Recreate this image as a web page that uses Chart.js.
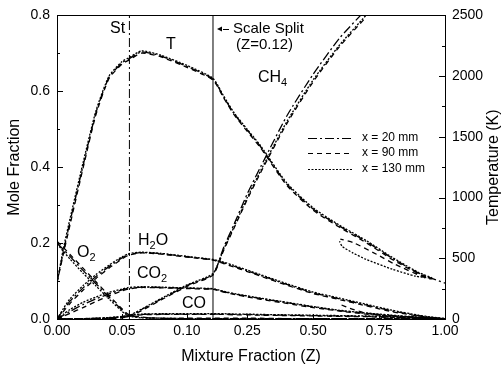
<!DOCTYPE html>
<html>
<head>
<meta charset="utf-8">
<script src="https://cdn.jsdelivr.net/npm/chart.js@4.4.1/dist/chart.umd.min.js"></script>
<style>
  html, body { margin: 0; padding: 0; background: #fff; }
</style>
</head>
<body>
<canvas id="grafik" width="501" height="368"></canvas>
<script>
// mixture fraction grid shared by all measured profiles
const zGrid = [0, 0.005, 0.01, 0.02, 0.03, 0.04, 0.05, 0.055, 0.065, 0.08, 0.10, 0.12,
               0.16, 0.20, 0.25, 0.30, 0.40, 0.50, 0.60, 0.70, 0.80, 0.90, 0.95, 1.00];
const zTicks = [0, 0.05, 0.10, 0.25, 0.50, 0.75, 1.00];
const ST_Z = 0.0557;      // stoichiometric
const SPLIT_Z = 0.12;     // scale split

// temperature (K)
const T20  = [300, 560, 800, 1260, 1700, 1990, 2110, 2140, 2200, 2165, 2080, 1975, 1830, 1690, 1555, 1420, 1110, 905, 765, 640, 500, 378, 335, 295];
const T90  = [300, 540, 775, 1240, 1685, 1980, 2100, 2130, 2190, 2158, 2072, 1968, 1822, 1682, 1545, 1410, 1100, 895, 755, 630, 490, 372, 330, null];
const T130 = [300, 585, 825, 1285, 1715, 2000, 2120, 2150, 2208, 2172, 2088, 1982, 1838, 1698, 1562, 1428, 1120, 915, 772, 648, 507, 383, 338, null];
const tHookZ90  = [0.925, 0.81, 0.74, 0.65, 0.603];
const tHook90   = [339, 451, 533, 631, 658];
const tHookZ130 = [0.89, 0.80, 0.70, 0.65, 0.61, 0.60];
const tHook130  = [352, 410, 492, 545, 598, 640];

// mole fractions
const CH4_20  = [0, 0, 0, 0, 0.001, 0.002, 0.004, 0.007, 0.025, 0.052, 0.088, 0.118, 0.188, 0.250, 0.330, 0.400, 0.535, 0.645, 0.740, 0.815, null, null, null, null];
const CH4_90  = [0, 0, 0, 0, 0, 0.001, 0.003, 0.006, 0.022, 0.050, 0.086, 0.116, 0.180, 0.240, 0.315, 0.385, 0.515, 0.625, 0.718, 0.795, null, null, null, null];
const CH4_130 = [0, 0, 0, 0, 0.001, 0.002, 0.005, 0.008, 0.026, 0.054, 0.090, 0.120, 0.183, 0.243, 0.320, 0.390, 0.520, 0.630, 0.722, 0.800, null, null, null, null];

const O2_20  = [0.200, 0.183, 0.165, 0.128, 0.093, 0.058, 0.024, 0.010, 0.004, 0.002, 0.001, 0.001, 0.001, 0.001, 0.001, 0.001, 0.001, 0.001, 0.001, 0.001, 0.001, 0.001, 0, 0];
const O2_90  = [0.205, 0.188, 0.170, 0.134, 0.098, 0.062, 0.027, 0.012, 0.005, 0.002, 0.002, 0.002, 0.002, 0.002, 0.002, 0.002, 0.001, 0.001, 0.001, 0.001, 0.001, 0.001, 0.001, null];
const O2_130 = [0.198, 0.178, 0.158, 0.121, 0.087, 0.053, 0.020, 0.008, 0.003, 0.002, 0.001, 0.001, 0.001, 0.001, 0.001, 0.001, 0.001, 0.001, 0.001, 0.001, 0.001, 0.001, 0, 0];

const H2O_20  = [0, 0.024, 0.047, 0.082, 0.112, 0.138, 0.161, 0.170, 0.175, 0.172, 0.164, 0.156, 0.148, 0.139, 0.127, 0.115, 0.091, 0.069, 0.053, 0.037, 0.021, 0.009, 0.004, 0.001];
const H2O_90  = [0, 0.020, 0.041, 0.076, 0.107, 0.134, 0.158, 0.168, 0.174, 0.171, 0.163, 0.155, 0.146, 0.137, 0.125, 0.113, 0.089, 0.067, 0.051, 0.035, 0.019, 0.008, 0.004, null];
const H2O_130 = [0, 0.028, 0.053, 0.088, 0.117, 0.142, 0.164, 0.172, 0.176, 0.173, 0.165, 0.157, 0.150, 0.141, 0.129, 0.117, 0.093, 0.071, 0.055, 0.039, 0.023, 0.010, 0.005, 0.001];
const h2oHookZ90 = [0.82, 0.75, 0.69, 0.64, 0.60];
const h2oHook90  = [0.006, 0.010, 0.017, 0.028, 0.039];

const CO2_20  = [0, 0.010, 0.020, 0.038, 0.053, 0.066, 0.077, 0.081, 0.084, 0.083, 0.081, 0.079, 0.072, 0.066, 0.060, 0.054, 0.043, 0.032, 0.022, 0.015, 0.009, 0.004, 0.002, 0.001];
const CO2_90  = [0, 0.007, 0.015, 0.030, 0.046, 0.061, 0.074, 0.079, 0.083, 0.082, 0.080, 0.078, 0.071, 0.065, 0.058, 0.052, 0.041, 0.030, 0.021, 0.013, 0.008, 0.004, 0.002, null];
const CO2_130 = [0, 0.013, 0.025, 0.044, 0.058, 0.070, 0.079, 0.083, 0.085, 0.084, 0.082, 0.080, 0.073, 0.067, 0.061, 0.055, 0.044, 0.033, 0.023, 0.016, 0.010, 0.005, 0.002, 0.001];

const CO_20  = [0, 0, 0, 0.001, 0.002, 0.003, 0.006, 0.009, 0.012, 0.013, 0.013, 0.013, 0.013, 0.012, 0.012, 0.011, 0.010, 0.009, 0.008, 0.007, 0.005, 0.003, 0.002, 0.001];
const CO_90  = [0, 0, 0, 0.001, 0.001, 0.002, 0.005, 0.008, 0.011, 0.012, 0.012, 0.012, 0.012, 0.011, 0.011, 0.010, 0.009, 0.008, 0.007, 0.006, 0.004, 0.003, 0.002, null];
const CO_130 = [0, 0, 0, 0.001, 0.002, 0.004, 0.007, 0.010, 0.013, 0.014, 0.014, 0.014, 0.014, 0.013, 0.013, 0.012, 0.011, 0.010, 0.009, 0.008, 0.006, 0.004, 0.002, 0.001];

const yTicksMole = [0, 0.2, 0.4, 0.6, 0.8];
const yTicksTemp = [0, 500, 1000, 1500, 2000, 2500];

const FONT = '"Liberation Sans", Arial, Helvetica, sans-serif';
const RIGHT_SQUEEZE = 0.2028;   // Z > 0.12 is drawn compressed

// x axis with a split: linear up to 0.12, compressed after
const LinearScale = Chart.LinearScale || Chart.registry.getScale('linear');
class SplitScale extends LinearScale {
    toU(v) { return v <= SPLIT_Z ? v : SPLIT_Z + (v - SPLIT_Z) * RIGHT_SQUEEZE; }
    fromU(u) { return u <= SPLIT_Z ? u : SPLIT_Z + (u - SPLIT_Z) / RIGHT_SQUEEZE; }
    determineDataLimits() { this.min = 0; this.max = 1; }
    buildTicks() { return zTicks.map(v => ({ value: v })); }
    getPixelForValue(v) { return this.getPixelForDecimal(this.toU(v) / this.toU(this.max)); }
    getValueForPixel(p) { return this.fromU(this.getDecimalForPixel(p) * this.toU(this.max)); }
}
SplitScale.id = 'split';
SplitScale.defaults = {};
Chart.register(SplitScale);

const stasiun = [
    { label: 'x = 20 mm',  dash: [9, 3, 2, 3] },
    { label: 'x = 90 mm',  dash: [5, 4] },
    { label: 'x = 130 mm', dash: [2, 1.5] }
];

function profil(values, hookZ, hookVals) {
    const pts = [];
    zGrid.forEach((z, i) => { if (values[i] !== null) pts.push({ x: z, y: values[i] }); });
    if (hookZ) hookZ.forEach((z, i) => pts.push({ x: z, y: hookVals[i] }));
    return pts;
}

function garis(data, s, axis) {
    return {
        data: data,
        yAxisID: axis || 'y',
        borderColor: '#000',
        borderWidth: 1.3,
        borderDash: stasiun[s].dash,
        pointRadius: 0,
        tension: 0.2,
        fill: false
    };
}

const datasets = [
    garis(profil(T20), 0, 'y2'),
    garis(profil(T90, tHookZ90, tHook90), 1, 'y2'),
    garis(profil(T130, tHookZ130, tHook130), 2, 'y2'),
    garis(profil(CH4_20), 0), garis(profil(CH4_90), 1), garis(profil(CH4_130), 2),
    garis(profil(O2_20), 0),  garis(profil(O2_90), 1),  garis(profil(O2_130), 2),
    garis(profil(H2O_20), 0), garis(profil(H2O_90, h2oHookZ90, h2oHook90), 1), garis(profil(H2O_130), 2),
    garis(profil(CO2_20), 0), garis(profil(CO2_90), 1), garis(profil(CO2_130), 2),
    garis(profil(CO_20), 0),  garis(profil(CO_90), 1),  garis(profil(CO_130), 2),
    // stoichiometric and split markers
    { data: [{ x: ST_Z, y: 0 }, { x: ST_Z, y: 0.8 }], borderColor: '#000', borderWidth: 1, borderDash: [9, 3, 2, 3], pointRadius: 0 },
    { data: [{ x: SPLIT_Z, y: 0 }, { x: SPLIT_Z, y: 0.8 }], borderColor: '#000', borderWidth: 1, pointRadius: 0 }
];

function tulisKimia(ctx, text, x, y, size) {
    let cx = x;
    for (let i = 0; i < text.length; i++) {
        let ch = text[i], sub = false;
        if (ch === '_') { ch = text[++i]; sub = true; }
        ctx.font = (sub ? Math.round(size * 0.7) : size) + 'px ' + FONT;
        ctx.fillText(ch, cx, sub ? y + size * 0.3 : y);
        cx += ctx.measureText(ch).width;
    }
}

const dekorasi = {
    id: 'dekorasi',
    afterDraw(chart) {
        const { ctx, chartArea: a, scales } = chart;
        ctx.save();
        ctx.strokeStyle = '#000';
        ctx.fillStyle = '#000';
        ctx.lineWidth = 1;
        ctx.setLineDash([]);
        ctx.strokeRect(Math.round(a.left) + 0.5, Math.round(a.top) + 0.5,
                       Math.round(a.right - a.left), Math.round(a.bottom - a.top));

        // inward tick marks
        ctx.beginPath();
        for (let k = 0; k <= 8; k++) {
            const p = Math.round(scales.y.getPixelForValue(k / 10)) + 0.5;
            const len = k % 2 === 0 ? 6 : 3;
            ctx.moveTo(a.left, p); ctx.lineTo(a.left + len, p);
        }
        for (let k = 0; k <= 10; k++) {
            const p = Math.round(scales.y2.getPixelForValue(k * 250)) + 0.5;
            const len = k % 2 === 0 ? 6 : 3;
            ctx.moveTo(a.right, p); ctx.lineTo(a.right - len, p);
        }
        zTicks.forEach(v => {
            const p = Math.round(scales.x.getPixelForValue(v)) + 0.5;
            ctx.moveTo(p, a.bottom); ctx.lineTo(p, a.bottom - 5);
        });
        ctx.stroke();

        // right axis title, reading bottom to top
        ctx.save();
        ctx.translate(494, (a.top + a.bottom) / 2);
        ctx.rotate(-Math.PI / 2);
        ctx.font = '16px ' + FONT;
        ctx.textAlign = 'center';
        ctx.textBaseline = 'middle';
        ctx.fillText('Temperature (K)', 0, 0);
        ctx.restore();

        // labels in the plot
        ctx.textBaseline = 'middle';
        ctx.textAlign = 'left';
        tulisKimia(ctx, 'St', 110, 29, 16);
        tulisKimia(ctx, 'T', 166, 45, 16);
        tulisKimia(ctx, 'CH_4', 258, 78, 16);
        tulisKimia(ctx, 'H_2O', 138, 241, 16);
        tulisKimia(ctx, 'CO_2', 137, 274, 16);
        tulisKimia(ctx, 'CO', 182, 304, 16);
        tulisKimia(ctx, 'O_2', 77, 253, 16);
        tulisKimia(ctx, 'Scale Split', 233, 29, 15);
        tulisKimia(ctx, '(Z=0.12)', 236, 45, 15);

        // arrow pointing at the split line
        ctx.beginPath();
        ctx.moveTo(217, 29); ctx.lineTo(222, 26.5); ctx.lineTo(222, 31.5); ctx.closePath();
        ctx.fill();
        ctx.beginPath();
        ctx.moveTo(223, 29.5); ctx.lineTo(229, 29.5);
        ctx.stroke();

        // legend
        const rows = [138, 153, 169];
        stasiun.forEach((s, i) => {
            ctx.beginPath();
            ctx.setLineDash(s.dash);
            ctx.lineWidth = 1;
            ctx.moveTo(308, rows[i] + 0.5); ctx.lineTo(353, rows[i] + 0.5);
            ctx.stroke();
            ctx.setLineDash([]);
            ctx.font = '12px ' + FONT;
            ctx.fillText(s.label, 362, rows[i]);
        });
        ctx.restore();
    }
};

Chart.defaults.font.family = FONT;
Chart.defaults.color = '#000';

new Chart(document.getElementById('grafik'), {
    type: 'line',
    data: { datasets: datasets },
    options: {
        responsive: false,
        animation: false,
        layout: { padding: { top: 13, left: 0, right: 0, bottom: 0 } },
        plugins: { legend: { display: false }, tooltip: { enabled: false } },
        scales: {
            x: {
                type: 'split',
                min: 0, max: 1,
                grid: { display: false, drawTicks: false },
                border: { display: false },
                ticks: { autoSkip: false, maxRotation: 0, padding: 4, font: { size: 14 },
                         callback: v => Number(v).toFixed(2) },
                title: { display: true, text: 'Mixture Fraction (Z)', font: { size: 16 }, padding: { top: 0, bottom: 2 } },
                afterFit: s => { s.height = 49; }
            },
            y: {
                min: 0, max: 0.8,
                afterBuildTicks: s => { s.ticks = yTicksMole.map(v => ({ value: v })); },
                grid: { display: false, drawTicks: false },
                border: { display: false },
                ticks: { padding: 7, font: { size: 14 }, callback: v => Number(v).toFixed(1) },
                title: { display: true, text: 'Mole Fraction', font: { size: 16 }, padding: { top: 5, bottom: 0 } },
                afterFit: s => { s.width = 57; }
            },
            y2: {
                position: 'right',
                min: 0, max: 2500,
                afterBuildTicks: s => { s.ticks = yTicksTemp.map(v => ({ value: v })); },
                grid: { display: false, drawTicks: false },
                border: { display: false },
                ticks: { padding: 7, font: { size: 14 }, callback: v => String(v) },
                afterFit: s => { s.width = 56; }
            }
        }
    },
    plugins: [dekorasi]
});
</script>
</body>
</html>
